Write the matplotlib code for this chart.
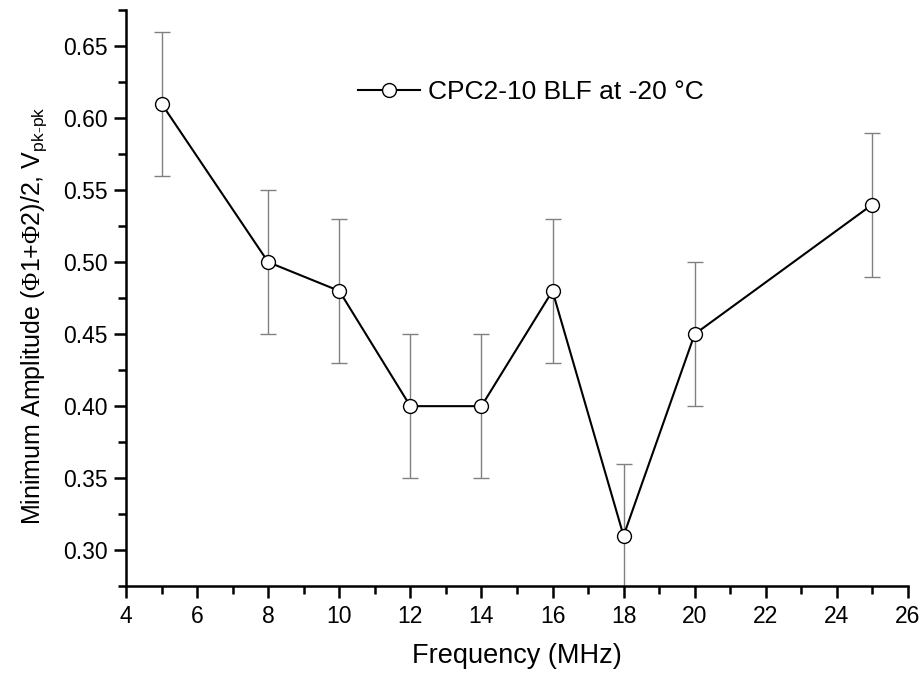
import matplotlib
matplotlib.use("Agg")
import matplotlib.pyplot as plt
from matplotlib.ticker import MultipleLocator

plt.rcParams["font.family"] = ["Liberation Sans", "DejaVu Sans"]
plt.rcParams["mathtext.fontset"] = "custom"
plt.rcParams["mathtext.rm"] = "Liberation Serif"
plt.rcParams["mathtext.sf"] = "Liberation Sans"

# data
freq = [5, 8, 10, 12, 14, 16, 18, 20, 25]
amp = [0.61, 0.50, 0.48, 0.40, 0.40, 0.48, 0.31, 0.45, 0.54]
err = [0.05, 0.05, 0.05, 0.05, 0.05, 0.05, 0.05, 0.05, 0.05]
label = "CPC2-10 BLF at -20 °C"

fig = plt.figure(figsize=(9.22, 6.73), dpi=100)
ax = fig.add_axes([0.1367, 0.129, 0.848, 0.856])

ax.errorbar(freq, amp, yerr=err, fmt="none", ecolor="#808080",
            elinewidth=1.0, capsize=6, capthick=1.0, zorder=1)
ax.plot(freq, amp, color="black", lw=1.5, marker="o", markersize=10,
        markerfacecolor="white", markeredgecolor="black",
        markeredgewidth=1.0, label=label, zorder=2)

ax.set_xlim(4, 26)
ax.set_ylim(0.275, 0.675)
ax.xaxis.set_major_locator(MultipleLocator(2))
ax.xaxis.set_minor_locator(MultipleLocator(1))
ax.yaxis.set_major_locator(MultipleLocator(0.05))
ax.yaxis.set_minor_locator(MultipleLocator(0.025))
ax.yaxis.set_major_formatter(plt.FormatStrFormatter("%.2f"))

for s in ["top", "right"]:
    ax.spines[s].set_visible(False)
for s in ["left", "bottom"]:
    ax.spines[s].set_linewidth(1.8)
ax.tick_params(which="major", direction="out", length=8.5, width=1.8,
               labelsize=16.5, pad=5)
ax.tick_params(which="minor", direction="out", length=5.5, width=1.8)

ax.set_xlabel("Frequency (MHz)", fontsize=19.5, labelpad=11)
ax.set_ylabel("Minimum Amplitude ($\\Phi$1+$\\Phi$2)/2, "
              "V$_{\\mathsf{pk}\\text{-}\\mathsf{pk}}$", fontsize=18)
ax.yaxis.set_label_coords(-0.098, 0.47)

ax.legend(loc="center left", bbox_to_anchor=(0.388, 0.863),
          bbox_transform=fig.transFigure, frameon=False, fontsize=19,
          handlelength=2.35, handletextpad=0.3, borderpad=0,
          borderaxespad=0)

fig.savefig("out.png", dpi=100)
